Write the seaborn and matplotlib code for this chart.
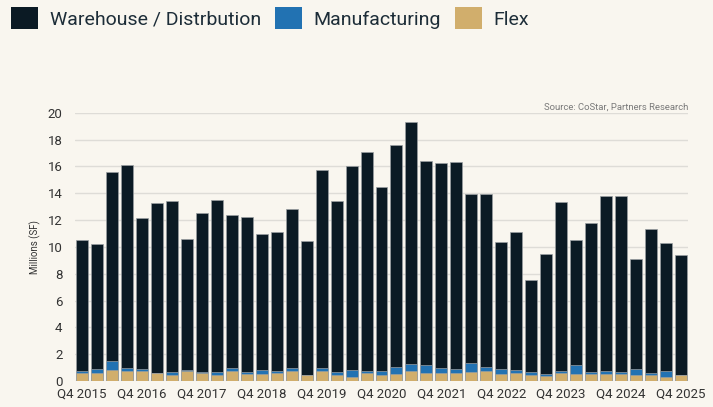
import numpy as np
import pandas as pd
import seaborn as sns
import matplotlib.pyplot as plt
from matplotlib.patches import Patch

# quarters Q4 2015 .. Q4 2025
quarters = ["Q4 2015"] + [f"Q{q} {y}" for y in range(2016, 2026) for q in range(1, 5)]

# completions, millions of SF
warehouse = [9.71, 9.34, 14.11, 15.15, 11.25, 12.62, 12.75, 9.76, 11.85, 12.80,
             11.40, 11.55, 10.11, 10.33, 11.83, 9.99, 14.73, 12.79, 15.20, 16.30,
             13.74, 16.52, 18.06, 15.21, 15.25, 15.38, 12.54, 12.87, 9.52, 10.28,
             6.88, 8.95, 12.57, 9.29, 11.15, 13.04, 13.14, 8.25, 10.73, 9.54, 8.94]
manufacturing = [0.15, 0.28, 0.69, 0.20, 0.13, 0.02, 0.20, 0.05, 0.08, 0.20,
                 0.20, 0.12, 0.32, 0.20, 0.20, 0.02, 0.25, 0.18, 0.50, 0.17,
                 0.25, 0.55, 0.47, 0.57, 0.38, 0.30, 0.72, 0.27, 0.37, 0.23,
                 0.22, 0.12, 0.15, 0.67, 0.15, 0.25, 0.15, 0.40, 0.10, 0.43, 0.03]
flex = [0.62, 0.62, 0.80, 0.77, 0.77, 0.60, 0.47, 0.77, 0.57, 0.47,
        0.77, 0.55, 0.50, 0.57, 0.77, 0.45, 0.72, 0.47, 0.32, 0.60,
        0.47, 0.52, 0.77, 0.62, 0.62, 0.62, 0.65, 0.77, 0.50, 0.62,
        0.45, 0.40, 0.60, 0.52, 0.50, 0.52, 0.52, 0.47, 0.47, 0.32, 0.42]

series_names = ["Warehouse / Distrbution", "Manufacturing", "Flex"]
colors = ["#0b1a24", "#2272b2", "#d1ae6c"]
bg = "#f9f6ef"

df = pd.DataFrame({"quarter": quarters, "Warehouse": warehouse,
                   "Manufacturing": manufacturing, "Flex": flex})
# cumulative heights so the layers can be overdrawn from the top down
df["top_wh"] = df["Flex"] + df["Manufacturing"] + df["Warehouse"]
df["top_mf"] = df["Flex"] + df["Manufacturing"]
df["top_fx"] = df["Flex"]

sns.set_theme(style="whitegrid")
plt.rcParams["font.family"] = ["Roboto", "DejaVu Sans"]

fig = plt.figure(figsize=(7.13, 4.07), dpi=100, facecolor=bg)
ax = fig.add_axes([75 / 713, 1 - 381 / 407, (688 - 75) / 713, (381 - 112.7) / 407])
ax.set_facecolor(bg)

for col, c in zip(["top_wh", "top_mf", "top_fx"], colors):
    sns.barplot(data=df, x="quarter", y=col, order=quarters, color=c,
                width=0.8, edgecolor="#9a9fa2", linewidth=0.5, ax=ax,
                saturation=1, zorder=3)

ax.set_xlim(-0.47, len(quarters) - 0.53)
ax.set_ylim(0, 20)
ax.set_yticks(range(0, 21, 2))
ax.tick_params(axis="y", labelsize=9.5, labelcolor="#333333", length=0, pad=9)
ax.tick_params(axis="x", labelsize=9.5, labelcolor="#333333", length=0, pad=5)

ticks = [i for i, q in enumerate(quarters) if q.startswith("Q4")]
ax.set_xticks(ticks)
ax.set_xticklabels([quarters[i] for i in ticks])

ax.grid(axis="x", visible=False)
ax.grid(axis="y", color="#dedcd7", linewidth=1)
for s in ax.spines.values():
    s.set_visible(False)

ax.set_xlabel("")
ax.set_ylabel("Millions (SF)", fontsize=7, color="#333333", labelpad=5)

fig.text(688 / 713, 1 - 110 / 407, "Source: CoStar, Partners Research",
         ha="right", va="baseline", fontsize=6.8, color="#7a7a7a")

handles = [Patch(facecolor=c, edgecolor="none") for c in colors]
fig.legend(handles, series_names, loc="upper left",
           bbox_to_anchor=(11 / 713, 1 - 7 / 407), ncol=3, frameon=False,
           fontsize=14, handlelength=1.4, handleheight=1.4,
           handletextpad=0.6, columnspacing=0.7, borderpad=0, borderaxespad=0,
           labelcolor="#1d2d38")

fig.savefig("out.png", dpi=100, facecolor=bg)
